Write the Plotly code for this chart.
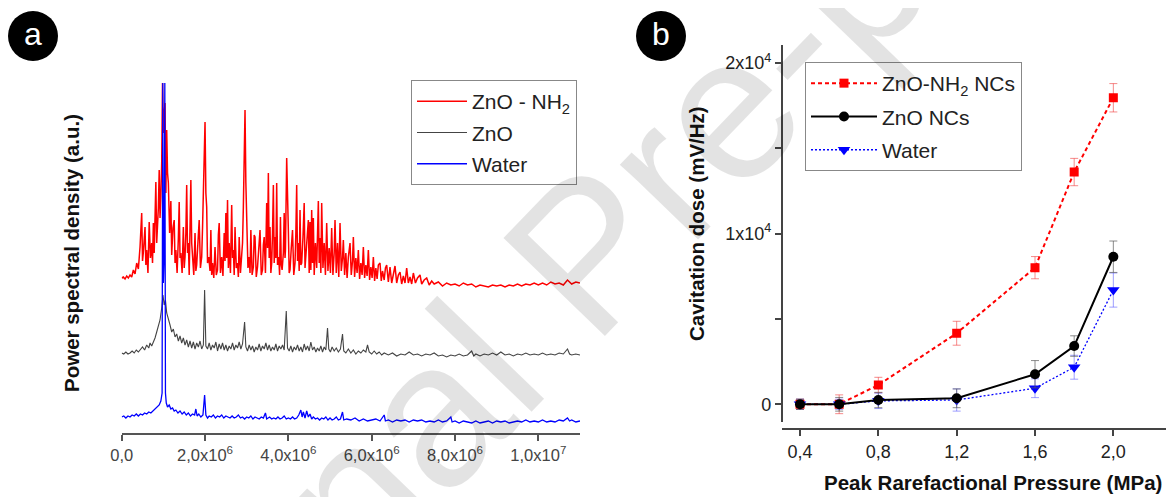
import plotly.graph_objects as go

# Page is offset by the browser's default 8px body margin; the figure is sized so that
# page pixel (x, y) maps to figure pixel (x - 8, y - 8).
OFF = 8
FW, FH = 1174 - OFF, 497 - OFF


def px(x):
    return (x - OFF) / FW


def py(y):
    return 1 - (y - OFF) / FH


# ---------------- Panel a : power spectral density (a.u.) ----------------
freq_znonh2_mhz = [
    0.00, 0.04, 0.08, 0.12, 0.16, 0.20, 0.24, 0.28, 0.32, 0.36, 0.40, 0.44, 0.48, 0.50, 0.52, 0.56, 0.58, 0.60,
    0.63, 0.66, 0.69, 0.72, 0.74, 0.76, 0.78, 0.82, 0.84, 0.86, 0.88, 0.90, 0.92, 0.94, 0.96, 0.98, 1.00, 1.02,
    1.04, 1.06, 1.08, 1.10, 1.12, 1.15, 1.18, 1.20, 1.23, 1.26, 1.28, 1.30, 1.33, 1.36, 1.38, 1.40, 1.42, 1.45,
    1.48, 1.50, 1.52, 1.54, 1.56, 1.58, 1.60, 1.62, 1.64, 1.66, 1.68, 1.70, 1.73, 1.76, 1.78, 1.80, 1.83, 1.86,
    1.89, 1.92, 1.94, 1.96, 1.98, 2.00, 2.02, 2.04, 2.06, 2.09, 2.12, 2.14, 2.16, 2.18, 2.21, 2.24, 2.27, 2.30,
    2.32, 2.34, 2.37, 2.40, 2.43, 2.46, 2.48, 2.50, 2.52, 2.54, 2.56, 2.58, 2.61, 2.64, 2.66, 2.68, 2.70, 2.72,
    2.75, 2.78, 2.80, 2.82, 2.85, 2.88, 2.90, 2.92, 2.94, 2.96, 2.98, 3.00, 3.03, 3.06, 3.08, 3.10, 3.13, 3.16,
    3.18, 3.20, 3.23, 3.26, 3.29, 3.32, 3.35, 3.38, 3.40, 3.42, 3.45, 3.48, 3.50, 3.52, 3.54, 3.56, 3.58, 3.60,
    3.62, 3.64, 3.66, 3.68, 3.70, 3.72, 3.74, 3.77, 3.79, 3.81, 3.83, 3.85, 3.88, 3.90, 3.92, 3.93, 3.96, 3.98,
    4.00, 4.02, 4.04, 4.07, 4.10, 4.13, 4.16, 4.18, 4.20, 4.22, 4.24, 4.26, 4.28, 4.30, 4.32, 4.35, 4.38, 4.40,
    4.42, 4.45, 4.48, 4.50, 4.52, 4.54, 4.56, 4.58, 4.60, 4.62, 4.65, 4.68, 4.72, 4.74, 4.76, 4.78, 4.80, 4.83,
    4.86, 4.89, 4.92, 4.95, 4.98, 5.01, 5.04, 5.07, 5.10, 5.12, 5.15, 5.18, 5.21, 5.24, 5.27, 5.30, 5.32, 5.35,
    5.38, 5.41, 5.44, 5.48, 5.51, 5.54, 5.56, 5.59, 5.62, 5.65, 5.68, 5.71, 5.74, 5.77, 5.80, 5.83, 5.86, 5.89,
    5.92, 5.95, 5.98, 6.01, 6.04, 6.07, 6.10, 6.13, 6.16, 6.20, 6.23, 6.26, 6.30, 6.33, 6.36, 6.40, 6.44, 6.48,
    6.52, 6.56, 6.60, 6.64, 6.68, 6.72, 6.76, 6.80, 6.84, 6.88, 6.92, 6.96, 7.00, 7.05, 7.10, 7.16, 7.20, 7.26,
    7.32, 7.38, 7.44, 7.50, 7.60, 7.70, 7.80, 7.90, 8.00, 8.10, 8.20, 8.30, 8.40, 8.50, 8.60, 8.70, 8.80, 8.90,
    9.00, 9.10, 9.20, 9.30, 9.40, 9.50, 9.60, 9.70, 9.80, 9.90, 10.00, 10.10, 10.20, 10.30, 10.40, 10.50, 10.60,
    10.70, 10.80, 10.90, 11.00,
]
psd_znonh2 = [
    155, 156, 154, 157, 155, 158, 156, 163, 159, 170, 164, 186, 220, 172, 181, 206, 168, 183,
    160, 211, 175, 190, 170, 210, 180, 251, 190, 203, 225, 263, 215, 237, 270, 350, 300, 320,
    330, 240, 303, 260, 250, 200, 232, 178, 205, 213, 170, 183, 160, 195, 231, 175, 180, 160,
    206, 165, 176, 200, 248, 180, 190, 158, 222, 253, 190, 176, 158, 200, 162, 168, 190, 213,
    165, 176, 205, 236, 260, 311, 240, 226, 170, 176, 162, 203, 158, 170, 155, 186, 158, 163,
    198, 210, 160, 176, 157, 200, 172, 220, 175, 233, 165, 190, 160, 228, 175, 183, 158, 206,
    165, 170, 156, 196, 160, 176, 190, 226, 260, 323, 250, 223, 165, 176, 160, 203, 158, 166,
    198, 196, 156, 166, 190, 203, 158, 163, 188, 196, 160, 230, 185, 260, 175, 206, 160, 170,
    200, 248, 170, 196, 175, 250, 168, 176, 158, 216, 168, 163, 180, 220, 175, 183, 275, 215,
    203, 160, 163, 185, 203, 158, 170, 200, 248, 172, 190, 162, 223, 168, 170, 195, 230, 165,
    176, 200, 213, 160, 211, 163, 223, 170, 215, 158, 190, 165, 232, 170, 195, 160, 230, 165,
    190, 158, 210, 162, 185, 160, 205, 158, 180, 213, 160, 190, 156, 210, 162, 175, 193, 158,
    180, 155, 176, 190, 158, 172, 196, 156, 175, 160, 183, 154, 170, 158, 186, 155, 168, 157,
    183, 153, 166, 155, 176, 152, 165, 154, 168, 170, 152, 162, 153, 165, 168, 151, 166, 150,
    160, 167, 150, 158, 161, 149, 157, 150, 165, 150, 156, 149, 160, 150, 155, 158, 149, 153,
    155, 148, 152, 149, 151, 147, 150, 148, 149, 147, 150, 148, 149, 146, 148, 147, 146, 148,
    147, 148, 146, 148, 147, 149, 147, 149, 148, 150, 148, 150, 148, 151, 149, 150, 148,
    153, 149, 151, 150,
]

freq_zno_mhz = [
    0.00, 0.05, 0.10, 0.15, 0.20, 0.25, 0.30, 0.35, 0.40, 0.45, 0.50, 0.55, 0.60, 0.65, 0.68, 0.72, 0.76, 0.80,
    0.84, 0.88, 0.92, 0.96, 0.99, 1.02, 1.05, 1.08, 1.12, 1.16, 1.20, 1.24, 1.28, 1.32, 1.36, 1.40, 1.44, 1.48,
    1.52, 1.56, 1.60, 1.64, 1.68, 1.72, 1.76, 1.80, 1.84, 1.88, 1.92, 1.96, 1.99, 2.02, 2.06, 2.10, 2.14, 2.18,
    2.22, 2.26, 2.30, 2.34, 2.38, 2.42, 2.46, 2.50, 2.54, 2.58, 2.62, 2.66, 2.70, 2.74, 2.78, 2.82, 2.86, 2.90,
    2.95, 2.98, 3.02, 3.06, 3.10, 3.14, 3.18, 3.22, 3.26, 3.30, 3.34, 3.38, 3.42, 3.46, 3.50, 3.54, 3.58, 3.62,
    3.66, 3.70, 3.74, 3.78, 3.82, 3.86, 3.90, 3.95, 3.98, 4.02, 4.06, 4.10, 4.14, 4.18, 4.22, 4.26, 4.30, 4.34,
    4.38, 4.42, 4.46, 4.50, 4.54, 4.58, 4.62, 4.66, 4.70, 4.74, 4.78, 4.82, 4.86, 4.90, 4.94, 4.97, 5.01, 5.05,
    5.10, 5.15, 5.20, 5.25, 5.30, 5.33, 5.38, 5.44, 5.50, 5.56, 5.62, 5.68, 5.74, 5.80, 5.86, 5.90, 5.94, 6.00,
    6.06, 6.12, 6.18, 6.24, 6.30, 6.40, 6.50, 6.60, 6.70, 6.80, 6.90, 7.00, 7.10, 7.20, 7.30, 7.40, 7.50, 7.60,
    7.70, 7.80, 7.90, 8.00, 8.10, 8.20, 8.30, 8.40, 8.45, 8.50, 8.60, 8.70, 8.80, 8.90, 9.00, 9.10, 9.20, 9.30,
    9.40, 9.50, 9.60, 9.70, 9.80, 9.90, 10.00, 10.10, 10.20, 10.30, 10.40, 10.50, 10.60, 10.70, 10.75, 10.80,
    10.90, 11.00,
]
psd_zno = [
    80, 79, 81, 79, 80, 82, 80, 83, 81, 84, 86, 83, 88, 85, 90, 87, 91, 95,
    101, 108, 113, 125, 138, 128, 133, 120, 115, 108, 101, 104, 96, 99, 92, 97, 90, 95,
    88, 93, 86, 92, 85, 91, 84, 90, 86, 92, 84, 88, 143, 87, 84, 90, 83, 88,
    85, 91, 82, 89, 84, 90, 83, 88, 82, 87, 84, 90, 83, 88, 85, 91, 84, 89,
    111, 86, 82, 88, 83, 87, 81, 86, 83, 89, 82, 87, 84, 90, 83, 88, 82, 86,
    83, 89, 82, 87, 84, 88, 83, 122, 85, 82, 87, 81, 86, 83, 88, 82, 86, 81,
    89, 83, 87, 82, 91, 83, 86, 81, 85, 82, 87, 81, 86, 83, 105, 84, 81, 86,
    82, 85, 81, 84, 99, 82, 80, 84, 80, 83, 79, 82, 80, 83, 81, 88, 81, 79,
    82, 79, 81, 78, 80, 78, 80, 77, 79, 78, 81, 78, 79, 77, 79, 78, 80, 77,
    78, 76, 78, 77, 79, 77, 78, 82, 77, 79, 77, 79, 78, 80, 78, 81, 78, 79,
    77, 79, 78, 80, 78, 79, 78, 80, 78, 79, 78, 80, 79, 84, 79, 78,
    79, 78,
]

freq_water_mhz = [
    0.00, 0.05, 0.10, 0.15, 0.20, 0.25, 0.30, 0.35, 0.40, 0.45, 0.50, 0.55, 0.60, 0.65, 0.70, 0.75, 0.80, 0.85,
    0.90, 0.94, 0.97, 0.985, 1.00, 1.02, 1.035, 1.05, 1.07, 1.10, 1.14, 1.18, 1.22, 1.26, 1.30, 1.35, 1.40, 1.45,
    1.50, 1.55, 1.60, 1.65, 1.70, 1.75, 1.78, 1.81, 1.85, 1.90, 1.95, 1.99, 2.02, 2.06, 2.10, 2.15, 2.20, 2.25,
    2.30, 2.35, 2.40, 2.45, 2.50, 2.55, 2.60, 2.65, 2.70, 2.75, 2.80, 2.85, 2.90, 2.95, 3.00, 3.05, 3.10, 3.15,
    3.20, 3.25, 3.30, 3.35, 3.40, 3.45, 3.48, 3.55, 3.60, 3.65, 3.70, 3.75, 3.80, 3.85, 3.90, 3.95, 4.00, 4.05,
    4.10, 4.15, 4.20, 4.25, 4.30, 4.33, 4.36, 4.40, 4.44, 4.48, 4.52, 4.56, 4.60, 4.65, 4.70, 4.75, 4.80, 4.85,
    4.90, 4.95, 5.00, 5.05, 5.10, 5.15, 5.20, 5.25, 5.30, 5.33, 5.40, 5.50, 5.60, 5.70, 5.80, 5.90, 6.00, 6.10,
    6.20, 6.30, 6.33, 6.40, 6.50, 6.60, 6.70, 6.80, 6.90, 7.00, 7.10, 7.20, 7.30, 7.40, 7.50, 7.60, 7.70, 7.80,
    7.90, 7.93, 8.00, 8.10, 8.20, 8.30, 8.40, 8.50, 8.60, 8.70, 8.80, 8.90, 9.00, 9.10, 9.20, 9.30, 9.40, 9.50,
    9.60, 9.70, 9.80, 9.90, 10.00, 10.10, 10.20, 10.30, 10.40, 10.50, 10.60, 10.70, 10.75, 10.80, 10.90, 11.00,
]
psd_water = [
    16, 17, 15, 17, 16, 18, 17, 19, 17, 19, 18, 20, 19, 21, 20, 22, 23, 25,
    28, 32, 40, 350, 150, 180, 350, 40, 30, 26, 28, 24, 25, 22, 23, 20, 22, 19,
    21, 18, 20, 17, 19, 18, 24, 17, 19, 16, 18, 38, 18, 15, 17, 16, 18, 15,
    17, 16, 18, 15, 17, 16, 15, 17, 15, 16, 18, 15, 16, 14, 16, 15, 17, 14,
    16, 15, 14, 16, 15, 20, 14, 16, 14, 15, 14, 16, 14, 15, 17, 14, 15, 14,
    16, 14, 15, 18, 23, 16, 21, 15, 22, 16, 19, 14, 16, 14, 15, 13, 15, 14,
    16, 13, 15, 13, 14, 16, 13, 14, 21, 13, 14, 13, 15, 12, 14, 12, 13, 14,
    12, 18, 12, 13, 11, 13, 12, 13, 11, 13, 12, 13, 11, 12, 11, 13, 11, 12,
    16, 11, 12, 10, 12, 11, 10, 12, 10, 11, 12, 10, 12, 11, 12, 10, 11, 12,
    11, 13, 11, 12, 11, 13, 11, 12, 11, 13, 12, 15, 12, 13, 11, 12,
]

spectrum_tickvals = [0, 2e6, 4e6, 6e6, 8e6, 1e7]
spectrum_ticktext = ["0,0", "2,0x10<sup>6</sup>", "4,0x10<sup>6</sup>", "6,0x10<sup>6</sup>",
                     "8,0x10<sup>6</sup>", "1,0x10<sup>7</sup>"]

# ---------------- Panel b : cavitation dose ----------------
pressure_mpa = [0.4, 0.6, 0.8, 1.2, 1.6, 1.8, 2.0]
dose_znonh2 = [0, 0, 1130, 4160, 8000, 13600, 17950]
err_znonh2 = [300, 550, 450, 700, 650, 800, 830]
dose_zno = [0, 0, 250, 350, 1760, 3410, 8640]
err_zno = [300, 400, 450, 550, 800, 600, 920]
dose_water = [0, 0, 200, 250, 940, 2170, 6690]
err_water = [300, 300, 450, 650, 550, 700, 1000]

pressure_tickvals = [0.4, 0.8, 1.2, 1.6, 2.0]
pressure_ticktext = ["0,4", "0,8", "1,2", "1,6", "2,0"]
dose_tickvals = [0, 5000, 10000, 15000, 20000]
dose_ticktext = ["0", "", "1x10<sup>4</sup>", "", "2x10<sup>4</sup>"]

FONT = "Arial, Liberation Sans, sans-serif"

fig = go.Figure()


def hz(lst):
    return [v * 1e6 for v in lst]


fig.add_trace(go.Scatter(x=hz(freq_znonh2_mhz), y=psd_znonh2, mode="lines", name="ZnO - NH<sub>2</sub>",
                         line=dict(color="#ff0000", width=1.5), xaxis="x", yaxis="y",
                         legend="legend", legendgroup="a1"))
fig.add_trace(go.Scatter(x=hz(freq_zno_mhz), y=psd_zno, mode="lines", name="ZnO",
                         line=dict(color="#444444", width=1.1), xaxis="x", yaxis="y",
                         legend="legend", legendgroup="a2"))
fig.add_trace(go.Scatter(x=hz(freq_water_mhz), y=psd_water, mode="lines", name="Water",
                         line=dict(color="#0000ff", width=1.3), xaxis="x", yaxis="y",
                         legend="legend", legendgroup="a3"))

fig.add_trace(go.Scatter(x=pressure_mpa, y=dose_znonh2, mode="lines+markers", name="ZnO-NH<sub>2</sub> NCs",
                         line=dict(color="#ff0000", width=2, dash="4px,3px"),
                         marker=dict(symbol="square", size=9, color="#ff0000"),
                         error_y=dict(type="data", array=err_znonh2, color="rgba(240,60,60,0.6)",
                                      thickness=1, width=4),
                         xaxis="x2", yaxis="y2", legend="legend2", legendgroup="b1", legendrank=1))
fig.add_trace(go.Scatter(x=pressure_mpa, y=dose_water, mode="lines+markers", name="Water",
                         line=dict(color="#0000ff", width=1.3, dash="2px,2px"),
                         marker=dict(symbol="triangle-down", size=11, color="#0000ff"),
                         error_y=dict(type="data", array=err_water, color="rgba(80,80,255,0.55)",
                                      thickness=1, width=4),
                         xaxis="x2", yaxis="y2", legend="legend2", legendgroup="b3", legendrank=3))
fig.add_trace(go.Scatter(x=pressure_mpa, y=dose_zno, mode="lines+markers", name="ZnO NCs",
                         line=dict(color="#000000", width=2),
                         marker=dict(symbol="circle", size=10, color="#000000"),
                         error_y=dict(type="data", array=err_zno, color="rgba(90,90,90,0.7)",
                                      thickness=1, width=4),
                         xaxis="x2", yaxis="y2", legend="legend2", legendgroup="b2", legendrank=2))

TITLE_FONT = dict(size=20.5, color="#111", family=FONT)
annotations = [
    dict(text="<b>Power spectral density (a.u.)</b>", x=px(71), y=py(253), xref="paper", yref="paper",
         xanchor="center", yanchor="middle", textangle=-90, showarrow=False, font=TITLE_FONT),
    dict(text="<b>Cavitation dose (mV/Hz)</b>", x=px(696), y=py(224), xref="paper", yref="paper",
         xanchor="center", yanchor="middle", textangle=-90, showarrow=False, font=TITLE_FONT),
    dict(text="<b>Peak Rarefactional Pressure (MPa)</b>", x=px(993), y=py(482), xref="paper", yref="paper",
         xanchor="center", yanchor="middle", showarrow=False, font=TITLE_FONT),
    dict(text="a", x=px(33), y=py(34), xref="paper", yref="paper", xanchor="center", yanchor="middle",
         showarrow=False, font=dict(size=32, color="white", family=FONT)),
    dict(text="b", x=px(661), y=py(34), xref="paper", yref="paper", xanchor="center", yanchor="middle",
         showarrow=False, font=dict(size=32, color="white", family=FONT)),
    dict(text="Journal Pre-proof", x=px(585), y=py(253), xref="paper", yref="paper", showarrow=False,
         xanchor="center", yanchor="middle",
         textangle=-46, font=dict(size=205, color="rgba(0,0,0,0.11)", family=FONT)),
]

shapes = [
    dict(type="circle", xref="paper", yref="paper", x0=px(8), x1=px(58), y0=py(61), y1=py(11),
         fillcolor="black", line=dict(width=0)),
    dict(type="circle", xref="paper", yref="paper", x0=px(636), x1=px(686), y0=py(61), y1=py(11),
         fillcolor="black", line=dict(width=0)),
]

fig.update_layout(
    width=FW, height=FH, margin=dict(l=0, r=0, t=0, b=0, autoexpand=False),
    paper_bgcolor="white", plot_bgcolor="rgba(0,0,0,0)",
    font=dict(family=FONT, color="#222"),
    xaxis=dict(domain=[px(121.7), px(580)], range=[0, 1.1e7], anchor="y",
               showline=True, linecolor="#555", linewidth=1.8, ticks="outside", ticklen=6, tickwidth=1.5,
               tickcolor="#555", tickvals=spectrum_tickvals, ticktext=spectrum_ticktext,
               tickfont=dict(size=16.5, color="#444"), showgrid=False, zeroline=False),
    yaxis=dict(domain=[py(433), py(82)], range=[0, 351], anchor="x", visible=False),
    xaxis2=dict(domain=[px(781.7), px(1171.7)], range=[0.3065, 2.298], anchor="free", position=py(429.3),
                showline=True, linecolor="#444", linewidth=1.8, ticks="outside", ticklen=6, tickwidth=1.5,
                tickcolor="#444", tickvals=pressure_tickvals, ticktext=pressure_ticktext,
                tickfont=dict(size=18, color="#222"), showgrid=False, zeroline=False),
    yaxis2=dict(domain=[py(421.7), py(45)], range=[-1020, 21040], anchor="free", position=px(781.7),
                showline=True, linecolor="#444", linewidth=1.8, ticks="outside", ticklen=6, tickwidth=1.5,
                tickcolor="#444", tickvals=dose_tickvals, ticktext=dose_ticktext,
                tickfont=dict(size=18, color="#222"), showgrid=False, zeroline=False),
    legend=dict(x=px(411), y=py(80), xanchor="left", yanchor="top", bordercolor="#888", borderwidth=1,
                bgcolor="rgba(255,255,255,0)", font=dict(size=21, color="#222", family=FONT),
                traceorder="grouped", tracegroupgap=1, itemwidth=50),
    legend2=dict(x=px(805), y=py(62), xanchor="left", yanchor="top", bordercolor="#888", borderwidth=1,
                 bgcolor="rgba(255,255,255,0)", font=dict(size=21, color="#222", family=FONT),
                 traceorder="grouped", tracegroupgap=3, itemwidth=66),
    annotations=annotations,
    shapes=shapes,
    showlegend=True,
)

fig.write_html("out.html")
